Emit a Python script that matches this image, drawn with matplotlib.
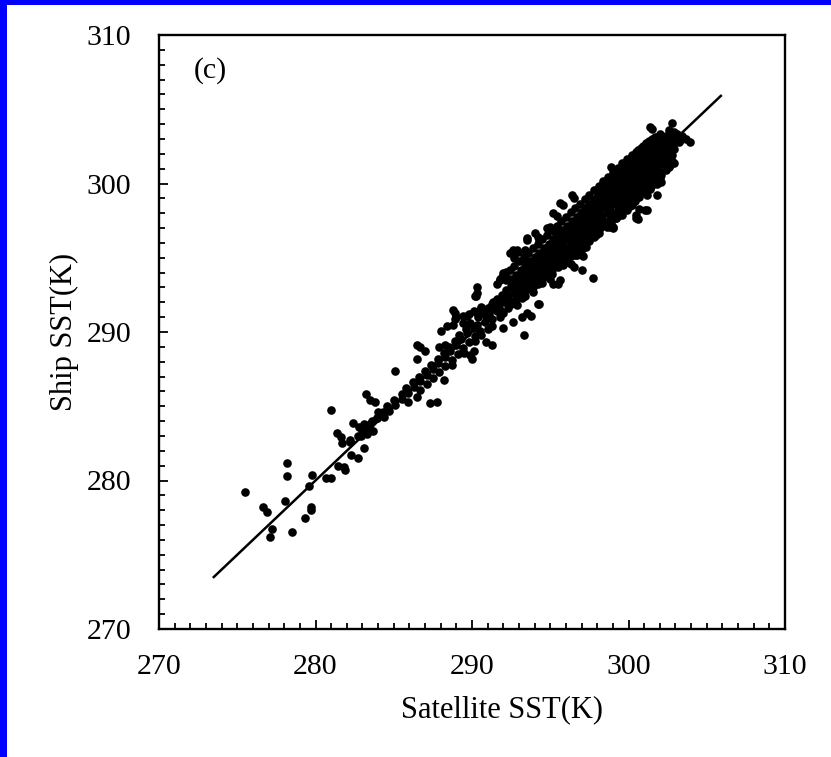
import matplotlib
matplotlib.use("Agg")
import matplotlib.pyplot as plt
from matplotlib.patches import Rectangle
from matplotlib.ticker import MultipleLocator

# dense core of the cloud (satellite x, ship y), row by row from the top
core_sat = [
    302.6, 302.9,
    302.0, 302.4, 302.7, 303.1, 303.4,
    301.5, 301.9, 302.2, 302.6, 302.9, 303.3,
    301.1, 301.5, 301.8, 302.2, 302.5, 302.9, 303.2,
    300.8, 301.2, 301.5, 301.9, 302.2, 302.6, 302.9,
    300.5, 300.9, 301.2, 301.6, 301.9, 302.3, 302.7,
    300.3, 300.6, 301.0, 301.3, 301.7, 302.0, 302.4, 302.8,
    300.0, 300.4, 300.7, 301.1, 301.4, 301.8, 302.1, 302.5, 302.8,
    299.8, 300.1, 300.5, 300.8, 301.2, 301.5, 301.9, 302.2, 302.6,
    299.5, 299.9, 300.2, 300.6, 300.9, 301.3, 301.6, 302.0, 302.4,
    299.2, 299.6, 299.9, 300.3, 300.6, 301.0, 301.3, 301.7, 302.1,
    299.0, 299.3, 299.7, 300.0, 300.4, 300.7, 301.1, 301.4, 301.7, 302.0,
    298.8, 299.1, 299.5, 299.8, 300.2, 300.5, 300.9, 301.2, 301.5, 301.8,
    298.5, 298.9, 299.2, 299.6, 299.9, 300.3, 300.6, 301.0, 301.4,
    298.2, 298.6, 298.9, 299.3, 299.6, 300.0, 300.3, 300.7, 301.0,
    298.0, 298.3, 298.7, 299.0, 299.4, 299.7, 300.1, 300.4, 300.7,
    297.7, 298.1, 298.4, 298.8, 299.1, 299.5, 299.8, 300.1, 300.4,
    297.4, 297.8, 298.1, 298.5, 298.8, 299.2, 299.5, 299.8, 300.1,
    297.2, 297.5, 297.9, 298.2, 298.6, 298.9, 299.3, 299.6, 299.9,
    296.9, 297.3, 297.6, 298.0, 298.3, 298.7, 299.0, 299.3, 299.6,
    296.7, 297.0, 297.4, 297.7, 298.1, 298.4, 298.8, 299.2,
    296.4, 296.8, 297.1, 297.5, 297.8, 298.2, 298.5, 298.9,
    296.2, 296.5, 296.9, 297.2, 297.6, 297.9, 298.2, 298.6,
    296.0, 296.3, 296.7, 297.0, 297.4, 297.7, 298.1,
    295.7, 296.1, 296.4, 296.8, 297.1, 297.5, 297.8,
    295.5, 295.8, 296.2, 296.5, 296.9, 297.2, 297.5,
    295.2, 295.6, 295.9, 296.3, 296.6, 296.9, 297.2,
    294.9, 295.3, 295.6, 296.0, 296.3, 296.6, 296.9,
    294.6, 295.0, 295.3, 295.7, 296.0, 296.3, 296.6,
    294.3, 294.7, 295.0, 295.4, 295.7, 296.1,
    294.0, 294.4, 294.7, 295.1, 295.4, 295.8,
    293.7, 294.1, 294.4, 294.8, 295.1, 295.5,
    293.4, 293.8, 294.1, 294.5, 294.8, 295.1,
    293.1, 293.5, 293.8, 294.2, 294.5, 294.8,
    292.8, 293.2, 293.5, 293.9, 294.2, 294.5,
    292.5, 292.9, 293.2, 293.6, 293.9, 294.2,
    292.2, 292.6, 292.9, 293.3, 293.6, 293.9,
    291.9, 292.3, 292.7, 293.0, 293.4,
    291.6, 292.0, 292.4, 292.8, 293.2,
    291.3, 291.7, 292.1, 292.5, 292.9,
    291.0, 291.4, 291.8, 292.3,
    290.7, 291.1, 291.6, 292.0,
    290.4, 290.9, 291.3, 291.8,
]
core_ship = [
    303.6, 303.5,
    303.3, 303.2, 303.4, 303.3, 303.2,
    303.0, 303.1, 302.9, 303.0, 303.1, 302.9,
    302.7, 302.6, 302.8, 302.7, 302.6, 302.7, 302.8,
    302.4, 302.5, 302.3, 302.4, 302.5, 302.4, 302.3,
    302.1, 302.0, 302.2, 302.1, 302.0, 302.1, 302.2,
    301.8, 301.9, 301.7, 301.8, 301.9, 301.7, 301.8, 301.9,
    301.5, 301.4, 301.6, 301.5, 301.4, 301.6, 301.5, 301.4, 301.5,
    301.2, 301.3, 301.1, 301.2, 301.3, 301.1, 301.2, 301.3, 301.1,
    300.9, 300.8, 301.0, 300.9, 300.8, 301.0, 300.9, 300.8, 300.9,
    300.6, 300.7, 300.5, 300.6, 300.7, 300.5, 300.6, 300.7, 300.6,
    300.3, 300.2, 300.4, 300.3, 300.2, 300.4, 300.3, 300.2, 300.3, 300.4,
    300.0, 300.1, 299.9, 300.0, 300.1, 299.9, 300.0, 300.1, 299.9, 300.0,
    299.7, 299.6, 299.8, 299.7, 299.6, 299.8, 299.7, 299.6, 299.7,
    299.4, 299.5, 299.3, 299.4, 299.5, 299.3, 299.4, 299.5, 299.4,
    299.1, 299.0, 299.2, 299.1, 299.0, 299.2, 299.1, 299.0, 299.1,
    298.8, 298.9, 298.7, 298.8, 298.9, 298.7, 298.8, 298.9, 298.8,
    298.5, 298.4, 298.6, 298.5, 298.4, 298.6, 298.5, 298.4, 298.5,
    298.2, 298.3, 298.1, 298.2, 298.3, 298.1, 298.2, 298.3, 298.2,
    297.9, 297.8, 298.0, 297.9, 297.8, 298.0, 297.9, 297.8, 297.9,
    297.6, 297.7, 297.5, 297.6, 297.7, 297.5, 297.6, 297.7,
    297.3, 297.2, 297.4, 297.3, 297.2, 297.4, 297.3, 297.2,
    297.0, 297.1, 296.9, 297.0, 297.1, 296.9, 297.0, 297.1,
    296.7, 296.6, 296.8, 296.7, 296.6, 296.8, 296.7,
    296.4, 296.5, 296.3, 296.4, 296.5, 296.3, 296.4,
    296.1, 296.0, 296.2, 296.1, 296.0, 296.2, 296.1,
    295.8, 295.9, 295.7, 295.8, 295.9, 295.7, 295.8,
    295.5, 295.4, 295.6, 295.5, 295.4, 295.6, 295.5,
    295.2, 295.3, 295.1, 295.2, 295.3, 295.1, 295.2,
    294.9, 294.8, 295.0, 294.9, 294.8, 295.0,
    294.6, 294.7, 294.5, 294.6, 294.7, 294.5,
    294.3, 294.2, 294.4, 294.3, 294.2, 294.4,
    294.0, 294.1, 293.9, 294.0, 294.1, 293.9,
    293.7, 293.6, 293.8, 293.7, 293.6, 293.8,
    293.4, 293.5, 293.3, 293.4, 293.5, 293.3,
    293.1, 293.0, 293.2, 293.1, 293.0, 293.2,
    292.8, 292.9, 292.7, 292.8, 292.9, 292.7,
    292.5, 292.4, 292.6, 292.5, 292.4,
    292.2, 292.3, 292.1, 292.2, 292.3,
    291.9, 291.8, 292.0, 291.9, 291.8,
    291.6, 291.7, 291.5, 291.6,
    291.3, 291.2, 291.4, 291.3,
    291.0, 291.1, 290.9, 291.0,
]

# extra fill between the core rows, where the cloud is fully black
fill_sat = [
    301.7, 302.4, 303.0, 301.3, 302.0, 302.7, 300.9, 301.6, 302.3,
    300.6, 301.3, 302.0, 302.6, 300.2, 300.9, 301.6, 302.3,
    299.9, 300.6, 301.3, 302.0, 299.6, 300.3, 301.0, 301.7,
    299.3, 300.0, 300.7, 301.4, 299.0, 299.7, 300.4, 301.1,
    298.7, 299.4, 300.1, 300.8, 298.4, 299.1, 299.8, 300.5,
    298.1, 298.8, 299.5, 300.2, 297.8, 298.5, 299.2, 299.9,
    297.5, 298.2, 298.9, 299.5, 297.2, 297.9, 298.6, 299.2,
    296.9, 297.6, 298.3, 296.6, 297.3, 298.0, 296.3, 297.0, 297.7,
    296.0, 296.7, 297.4, 295.7, 296.4, 297.1, 295.4, 296.1, 296.8,
    295.1, 295.8, 296.5, 294.8, 295.5, 296.2, 294.5, 295.2, 295.9,
    294.2, 294.9, 295.6, 293.9, 294.6, 295.3, 293.6, 294.3, 295.0,
    293.3, 294.0, 294.7, 293.0, 293.7, 294.4, 292.7, 293.4, 294.0,
    292.4, 293.1, 293.7, 292.1, 292.8, 293.4, 291.8, 292.5, 293.1,
]
fill_ship = [
    303.15, 303.15, 303.2, 302.85, 302.85, 302.9, 302.55, 302.55, 302.6,
    302.25, 302.25, 302.3, 302.2, 301.95, 301.95, 301.9, 302.0,
    301.65, 301.65, 301.7, 301.6, 301.35, 301.35, 301.4, 301.3,
    301.05, 301.05, 301.1, 301.0, 300.75, 300.75, 300.8, 300.7,
    300.45, 300.45, 300.5, 300.4, 300.15, 300.15, 300.2, 300.1,
    299.85, 299.85, 299.9, 299.8, 299.55, 299.55, 299.6, 299.5,
    299.25, 299.25, 299.3, 299.2, 298.95, 298.95, 299.0, 298.9,
    298.65, 298.65, 298.7, 298.35, 298.35, 298.4, 298.05, 298.05, 298.1,
    297.75, 297.75, 297.8, 297.45, 297.45, 297.5, 297.15, 297.15, 297.2,
    296.85, 296.85, 296.9, 296.55, 296.55, 296.6, 296.25, 296.25, 296.3,
    295.95, 295.95, 296.0, 295.65, 295.65, 295.7, 295.35, 295.35, 295.4,
    295.05, 295.05, 295.1, 294.75, 294.75, 294.8, 294.45, 294.45, 294.5,
    294.15, 294.15, 294.2, 293.85, 293.85, 293.9, 293.55, 293.55, 293.6,
]

# thinner tail of the cloud below 291 K
tail_sat = [
    289.9, 290.3, 290.8, 291.3,
    289.6, 290.1, 290.5, 291.0,
    289.2, 289.7, 290.2, 290.6,
    288.9, 289.3, 289.8, 290.2,
    288.5, 289.0, 289.4,
    288.2, 288.6, 289.1, 289.5,
    287.8, 288.3, 288.7,
    287.4, 287.8, 288.3, 288.7,
    287.0, 287.5, 287.9,
    286.6, 287.1, 287.5,
    286.2, 286.7, 287.1,
    285.8, 286.3, 286.7,
    285.5, 285.9,
    285.0, 285.5, 285.9,
    284.6, 285.1,
    284.3, 284.7,
    283.9, 284.4,
    283.5,
    283.0, 283.4,
    282.7,
    282.2,
]
tail_ship = [
    290.6, 290.5, 290.7, 290.4,
    290.2, 290.3, 290.1, 290.2,
    289.8, 289.9, 289.7, 289.8,
    289.4, 289.5, 289.3, 289.4,
    289.0, 289.1, 288.9,
    288.6, 288.7, 288.5, 288.6,
    288.2, 288.3, 288.1,
    287.8, 287.9, 287.7, 287.8,
    287.4, 287.5, 287.3,
    287.0, 287.1, 286.9,
    286.6, 286.7, 286.5,
    286.2, 286.3, 286.1,
    285.8, 285.9,
    285.4, 285.5, 285.3,
    285.0, 285.1,
    284.6, 284.7,
    284.2, 284.3,
    283.8,
    283.4, 283.3,
    283.0,
    282.6,
]

# scattered points away from the core
out_sat = [
    275.5, 276.65, 276.9, 277.25, 277.1, 278.5, 278.05, 278.2, 278.15, 279.3,
    279.7, 279.7, 279.6, 279.75, 280.7, 281.0, 281.45, 281.8, 281.9, 281.0,
    281.4, 281.6, 281.7, 282.2, 282.4, 282.3, 282.7, 283.1, 283.25, 283.5,
    283.8, 284.0, 282.8, 283.1, 283.4, 283.6, 283.9, 283.3, 283.7, 284.1,
    282.9,
    285.1, 286.5, 286.7, 287.0, 286.5, 287.9, 288.3, 288.05, 288.4, 288.8,
    288.9, 288.9, 289.4, 289.8, 290.1, 290.3, 290.3, 290.3, 290.2, 290.6,
    290.5, 291.6, 292.0, 292.2, 291.35, 291.5, 288.2, 287.3, 287.75, 286.5,
    289.9, 290.1, 290.0, 290.9, 291.25, 292.0, 288.8, 289.0, 289.7, 289.45,
    290.5, 290.25, 291.9, 292.2,
    292.4, 292.85, 292.0, 291.8, 293.5, 294.0, 294.2, 295.0, 294.8, 295.2,
    295.4, 295.6, 295.8, 296.4, 296.5, 295.3, 295.6, 294.3, 293.5, 292.6,
    292.95, 293.4, 292.7, 293.6, 293.8, 293.3,
    298.9, 301.4, 301.5, 302.8, 303.7, 303.9, 302.1, 301.8, 301.4, 301.2,
    300.7, 301.2, 301.05, 300.5, 300.5, 300.6, 300.2, 299.7, 298.8, 299.0,
    297.9, 302.9, 302.65, 297.75, 297.0, 296.5, 296.05, 293.5, 293.8, 294.2,
    297.1, 295.6, 295.5, 294.3, 293.2, 292.6, 293.3, 298.9, 299.0, 299.2,
    296.7, 297.0, 297.3, 296.3, 295.0, 295.2,
]
out_ship = [
    279.25, 278.2, 277.9, 276.75, 276.2, 276.55, 278.6, 281.2, 280.3, 277.5,
    278.2, 278.0, 279.6, 280.4, 280.2, 280.2, 281.0, 280.9, 280.7, 284.77,
    283.2, 282.9, 282.5, 282.7, 283.9, 281.7, 281.5, 282.2, 285.83, 285.4,
    285.3, 284.6, 283.6, 283.8, 283.5, 284.0, 284.2, 283.1, 283.3, 284.5,
    283.0,
    287.4, 289.1, 288.97, 288.7, 288.2, 288.97, 289.1, 290.1, 290.4, 290.5,
    291.3, 290.9, 291.1, 291.2, 291.4, 291.3, 293.05, 292.6, 292.4, 291.7,
    291.4, 293.2, 293.8, 294.06, 292.0, 291.9, 286.8, 285.2, 285.3, 285.6,
    288.45, 288.7, 288.2, 289.35, 289.1, 290.25, 291.5, 291.0, 291.1, 290.6,
    291.5, 292.4, 293.7, 293.5,
    295.3, 295.5, 293.95, 293.5, 296.2, 296.65, 296.4, 297.1, 297.0, 298.0,
    297.8, 298.7, 298.55, 299.2, 299.0, 296.75, 296.9, 296.2, 296.3, 295.5,
    295.4, 295.5, 294.96, 294.6, 294.4, 294.9,
    301.1, 303.8, 303.65, 304.1, 303.0, 302.8, 300.1, 299.2, 299.6, 299.2,
    298.3, 298.2, 298.2, 297.9, 297.65, 297.6, 298.55, 298.2, 297.1, 297.1,
    296.5, 301.4, 301.25, 293.65, 294.2, 294.4, 294.7, 291.3, 291.1, 291.9,
    295.1, 293.5, 293.2, 291.9, 291.0, 290.7, 289.8, 297.3, 296.98, 297.65,
    295.2, 295.6, 295.75, 294.6, 293.6, 293.2,
]

assert len(core_sat) == len(core_ship)
assert len(fill_sat) == len(fill_ship)
assert len(tail_sat) == len(tail_ship)
assert len(out_sat) == len(out_ship)

fit_x = [273.5, 305.9]
fit_y = [273.5, 305.9]

plt.rcParams['font.family'] = ['Liberation Serif', 'DejaVu Serif']

fig = plt.figure(figsize=(8.31, 7.57), dpi=100, facecolor='white')
# blue frame strips on the left and top edges
fig.patches.append(Rectangle((0, 0), 7 / 831, 1, transform=fig.transFigure,
                             facecolor='#0000ff', edgecolor='none'))
fig.patches.append(Rectangle((0, 752 / 757), 1, 5 / 757, transform=fig.transFigure,
                             facecolor='#0000ff', edgecolor='none'))

ax = fig.add_axes([159 / 831, 128 / 757, 626 / 831, 594 / 757])

all_sat = core_sat + fill_sat + tail_sat + out_sat
all_ship = core_ship + fill_ship + tail_ship + out_ship
ax.plot(all_sat, all_ship, 'o', color='black', markersize=6.2, markeredgewidth=0)
ax.plot(fit_x, fit_y, color='black', linewidth=1.8)

ax.set_xlim(270, 310)
ax.set_ylim(270, 310)
ax.xaxis.set_major_locator(MultipleLocator(10))
ax.yaxis.set_major_locator(MultipleLocator(10))
ax.xaxis.set_minor_locator(MultipleLocator(1))
ax.yaxis.set_minor_locator(MultipleLocator(1))
ax.tick_params(which='both', direction='in', top=False, right=False, width=1.3,
               labelsize=21.5)
ax.tick_params(which='major', length=6.5)
ax.tick_params(which='minor', length=4)
ax.tick_params(axis='y', which='major', pad=20)
ax.tick_params(axis='x', which='major', pad=18)
for s in ax.spines.values():
    s.set_linewidth(1.7)

ax.set_xlabel('Satellite SST(K)', fontsize=22)
ax.xaxis.set_label_coords(0.548, -0.112)
ax.set_ylabel('Ship SST(K)', fontsize=22)
ax.yaxis.set_label_coords(-0.128, 0.5)

ax.text(272.2, 307.6, '(c)', fontsize=21.5, va='center')

fig.savefig('out.png', dpi=100)
